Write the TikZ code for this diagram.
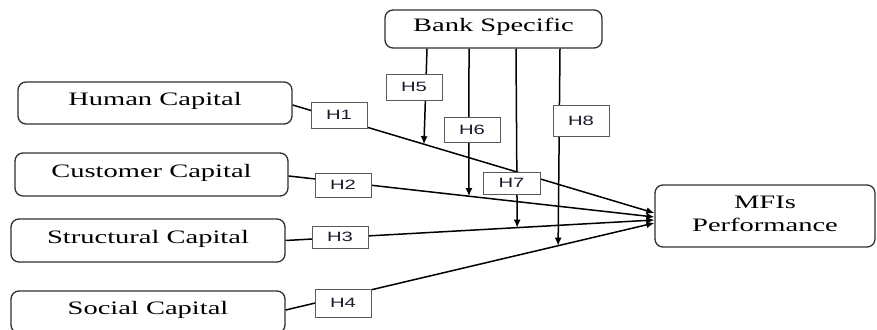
\documentclass[tikz,border=0pt]{standalone}
\usepackage{fontspec}
\setmainfont{Liberation Serif}[FakeStretch=1.5]
\newfontfamily\hlabfont{Liberation Sans}[FakeStretch=1.5]
\usetikzlibrary{arrows.meta}
\definecolor{boxline}{HTML}{303030}
\definecolor{hline}{HTML}{5A5A5A}
\definecolor{htext}{HTML}{1A1A2E}
\tikzset{
  construct/.style={draw=boxline, line width=1.3pt, rounded corners=8pt,
    inner sep=0pt},
  lbl/.style={yshift=2pt, inner sep=0pt, align=center,
    font=\rmfamily\fontsize{19}{23}\selectfont},
  hyp/.style={draw=hline, line width=0.9pt, fill=white, inner sep=0pt,
    minimum width=56pt, font=\hlabfont\fontsize{13.5}{15}\selectfont, text=htext},
  link/.style={line width=1.5pt, -{Latex[length=8pt,width=7pt]}}
}
\begin{document}
\begin{tikzpicture}[x=1pt,y=-1pt]
\clip (0,0) rectangle (877,329);
\fill[white] (0,0) rectangle (877,329);

% constructs
\node[construct, minimum width=274pt, minimum height=42pt] (hc) at (155,103) {};
\node[lbl] (hct) at (hc) {Human Capital};
\node[construct, minimum width=273pt, minimum height=43pt] (cc) at (151.5,174.5) {};
\node[lbl] (cct) at (cc) {Customer Capital};
\node[construct, minimum width=274pt, minimum height=43pt] (sc) at (148,240.5) {};
\node[lbl] (sct) at (sc) {Structural Capital};
\node[construct, minimum width=274pt, minimum height=42pt] (soc) at (148,312) {};
\node[lbl] (soct) at (soc) {Social Capital};
\node[construct, minimum width=217pt, minimum height=38pt] (bank) at (493.5,29) {};
\node[lbl] (bankt) at (bank) {Bank Specific};
\node[construct, minimum width=220pt, minimum height=62pt] (mfi) at (765,216) {};
\node[lbl] (mfit) at (mfi) {MFIs\\Performance};

% direct paths to performance
\draw[link] ([yshift=-2pt]hc.east) -- coordinate[pos=0.363] (p1) ([yshift=3pt]mfi.west);
\draw[link] ([yshift=-1.5pt]cc.east) -- coordinate[pos=0.493] (p2) ([yshift=-1pt]mfi.west);
\draw[link] (sc.east) -- coordinate[pos=0.628] (p3) ([yshift=-4pt]mfi.west);
\draw[link] ([yshift=2pt]soc.east) -- coordinate[pos=0.739] (p4) ([yshift=-7pt]mfi.west);

% moderating paths from bank specific factors
\draw[link] ([xshift=-66.5pt]bank.south) -- (p1);
\draw[link] ([xshift=-24.5pt]bank.south) -- (p2);
\draw[link] ([xshift=22.5pt]bank.south) -- (p3);
\draw[link] ([xshift=66.5pt]bank.south) -- (p4);

% hypothesis labels
\node[hyp, minimum height=26pt] (h1) at (339,115) {H1};
\node[hyp, minimum height=24pt] (h2) at (343,185) {H2};
\node[hyp, minimum height=22pt] (h3) at (340,237) {H3};
\node[hyp, minimum height=28pt] (h4) at (343,303) {H4};
\node[hyp, minimum height=26pt] (h5) at (414,87) {H5};
\node[hyp, minimum height=25pt] (h6) at (472,129.5) {H6};
\node[hyp, minimum height=22pt, minimum width=57pt] (h7) at (511.5,183) {H7};
\node[hyp, minimum height=31pt] (h8) at (581,120.5) {H8};
\end{tikzpicture}
\end{document}
